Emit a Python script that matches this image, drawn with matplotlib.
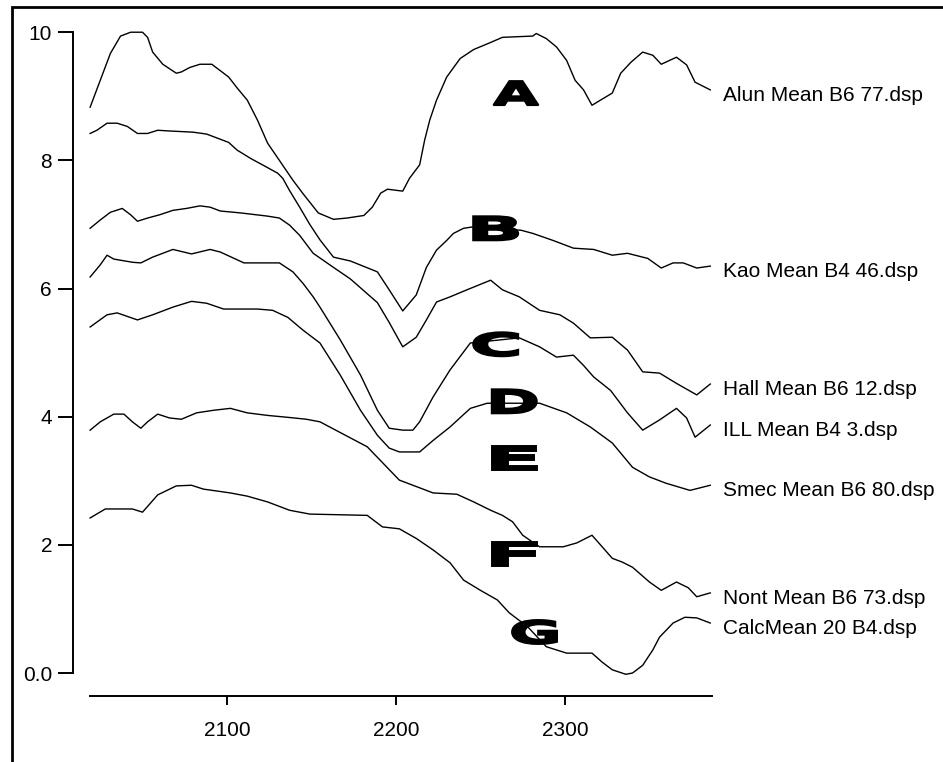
import matplotlib
matplotlib.use("Agg")
import matplotlib.pyplot as plt
from matplotlib import patheffects, font_manager
from matplotlib.transforms import Affine2D
from matplotlib.patches import Rectangle

# spectra, wavelength (nm) and offset reflectance
alun_x = [2019, 2025, 2031, 2037, 2043, 2050, 2053, 2056, 2062, 2070, 2073, 2078, 2084, 2091, 2096,
          2101, 2106, 2112, 2118, 2124, 2131, 2139, 2145, 2154, 2163, 2171, 2181, 2186, 2191, 2195,
          2204, 2208, 2214, 2217, 2220, 2224, 2230, 2238, 2246, 2256, 2263, 2281, 2283, 2289, 2295,
          2301, 2306, 2311, 2316, 2321, 2328, 2333, 2339, 2346, 2352, 2357, 2366, 2372, 2377, 2386]
alun_y = [8.83, 9.25, 9.67, 9.94, 10.0, 10.0, 9.92, 9.69, 9.50, 9.36, 9.38, 9.45, 9.50, 9.50, 9.40,
          9.30, 9.13, 8.94, 8.63, 8.27, 8.00, 7.69, 7.48, 7.18, 7.08, 7.10, 7.14, 7.27, 7.49, 7.55,
          7.52, 7.72, 7.93, 8.32, 8.63, 8.94, 9.30, 9.59, 9.73, 9.84, 9.92, 9.94, 9.98, 9.90, 9.77,
          9.56, 9.25, 9.10, 8.86, 8.94, 9.05, 9.36, 9.53, 9.69, 9.64, 9.50, 9.61, 9.49, 9.22, 9.10]

kao_x = [2019, 2023, 2029, 2035, 2041, 2047, 2053, 2059, 2065, 2080, 2088, 2095, 2101, 2106, 2114,
         2121, 2130, 2133, 2137, 2143, 2149, 2155, 2163, 2173, 2189, 2195, 2204, 2212, 2218, 2224,
         2230, 2234, 2240, 2245, 2274, 2281, 2293, 2305, 2317, 2328, 2337, 2349, 2357, 2364, 2370,
         2378, 2386]
kao_y = [8.42, 8.47, 8.58, 8.58, 8.53, 8.42, 8.42, 8.47, 8.46, 8.44, 8.41, 8.34, 8.28, 8.16, 8.03,
         7.93, 7.80, 7.72, 7.53, 7.27, 7.00, 6.76, 6.49, 6.43, 6.26, 6.02, 5.65, 5.90, 6.33, 6.60,
         6.75, 6.86, 6.94, 6.96, 6.91, 6.86, 6.75, 6.63, 6.61, 6.52, 6.55, 6.47, 6.32, 6.40, 6.40,
         6.32, 6.35]

hall_x = [2019, 2025, 2031, 2038, 2043, 2047, 2053, 2060, 2068, 2076, 2084, 2090, 2096, 2108, 2124,
          2131, 2137, 2143, 2151, 2163, 2173, 2189, 2196, 2204, 2212, 2218, 2224, 2232, 2242, 2256,
          2263, 2273, 2285, 2297, 2305, 2315, 2328, 2337, 2346, 2356, 2366, 2378, 2386]
hall_y = [6.94, 7.07, 7.19, 7.25, 7.15, 7.05, 7.10, 7.15, 7.22, 7.25, 7.29, 7.27, 7.21, 7.18, 7.13,
          7.10, 6.99, 6.83, 6.55, 6.33, 6.15, 5.78, 5.47, 5.09, 5.24, 5.51, 5.79, 5.87, 5.98, 6.13,
          5.98, 5.87, 5.66, 5.59, 5.46, 5.23, 5.24, 5.04, 4.70, 4.68, 4.52, 4.34, 4.51]

ill_x = [2019, 2025, 2029, 2033, 2044, 2049, 2056, 2068, 2079, 2090, 2096, 2110, 2131, 2139, 2145,
         2151, 2155, 2167, 2179, 2189, 2196, 2204, 2210, 2214, 2222, 2232, 2244, 2273, 2285, 2295,
         2305, 2311, 2317, 2327, 2337, 2346, 2356, 2366, 2372, 2377, 2386]
ill_y = [6.18, 6.37, 6.52, 6.46, 6.41, 6.40, 6.49, 6.61, 6.54, 6.61, 6.57, 6.40, 6.40, 6.26, 6.08,
         5.87, 5.71, 5.20, 4.65, 4.10, 3.82, 3.79, 3.79, 3.92, 4.31, 4.73, 5.15, 5.23, 5.09, 4.93,
         4.96, 4.80, 4.62, 4.41, 4.06, 3.79, 3.95, 4.13, 3.98, 3.68, 3.87]

smec_x = [2019, 2029, 2035, 2047, 2056, 2068, 2079, 2088, 2098, 2118, 2127, 2136, 2145, 2155, 2167,
          2179, 2189, 2196, 2202, 2214, 2222, 2232, 2244, 2254, 2285, 2301, 2315, 2328, 2340, 2350,
          2360, 2374, 2386]
smec_y = [5.40, 5.59, 5.62, 5.51, 5.59, 5.71, 5.80, 5.77, 5.68, 5.68, 5.66, 5.55, 5.35, 5.15, 4.65,
          4.10, 3.71, 3.51, 3.45, 3.45, 3.63, 3.84, 4.13, 4.21, 4.21, 4.06, 3.84, 3.59, 3.21, 3.06,
          2.96, 2.85, 2.93]

nont_x = [2019, 2025, 2033, 2039, 2044, 2049, 2053, 2059, 2066, 2073, 2082, 2092, 2102, 2112, 2124,
          2136, 2147, 2155, 2183, 2202, 2222, 2236, 2246, 2256, 2263, 2269, 2275, 2281, 2285, 2299,
          2307, 2316, 2322, 2328, 2334, 2340, 2350, 2357, 2366, 2373, 2378, 2386]
nont_y = [3.79, 3.92, 4.04, 4.04, 3.92, 3.82, 3.92, 4.04, 3.98, 3.96, 4.06, 4.10, 4.13, 4.06, 4.02,
          3.99, 3.96, 3.92, 3.53, 3.01, 2.81, 2.79, 2.67, 2.54, 2.46, 2.36, 2.15, 2.04, 1.97, 1.97,
          2.03, 2.15, 1.97, 1.79, 1.73, 1.65, 1.42, 1.29, 1.42, 1.33, 1.19, 1.25]

calc_x = [2019, 2028, 2044, 2050, 2059, 2070, 2079, 2086, 2102, 2112, 2124, 2137, 2149, 2183, 2192,
          2202, 2212, 2222, 2232, 2240, 2250, 2260, 2267, 2278, 2289, 2301, 2309, 2316, 2322, 2328,
          2336, 2340, 2346, 2352, 2356, 2364, 2371, 2378, 2386]
calc_y = [2.42, 2.56, 2.56, 2.51, 2.78, 2.92, 2.93, 2.87, 2.81, 2.76, 2.67, 2.54, 2.48, 2.46, 2.28,
          2.25, 2.10, 1.92, 1.72, 1.45, 1.29, 1.14, 0.94, 0.72, 0.41, 0.31, 0.31, 0.31, 0.17, 0.05,
          -0.02, 0.00, 0.12, 0.36, 0.56, 0.78, 0.87, 0.86, 0.78]

names = ["Alun Mean B6 77.dsp", "Kao Mean B4 46.dsp", "Hall Mean B6 12.dsp", "ILL Mean B4 3.dsp",
         "Smec Mean B6 80.dsp", "Nont Mean B6 73.dsp", "CalcMean 20 B4.dsp"]
spectra = [(alun_x, alun_y), (kao_x, kao_y), (hall_x, hall_y), (ill_x, ill_y),
           (smec_x, smec_y), (nont_x, nont_y), (calc_x, calc_y)]

letters = ["A", "B", "C", "D", "E", "F", "G"]
letter_x = [2271, 2259, 2259, 2270, 2270, 2270, 2282]
letter_y = [9.05, 6.94, 5.13, 4.24, 3.35, 1.86, 0.64]

y_ticks = [0, 2, 4, 6, 8, 10]
y_ticklabels = ["0.0", "2", "4", "6", "8", "10"]
x_ticks = [2100, 2200, 2300]

installed = {f.name for f in font_manager.fontManager.ttflist}
if "Liberation Sans Narrow" in installed:
    txt_font, txt_size = "Liberation Sans Narrow", 17
else:
    txt_font, txt_size = "Liberation Sans", 15
plt.rcParams["font.family"] = [txt_font, "DejaVu Sans"]


class BlockLetter(patheffects.AbstractPathEffect):
    """draw a glyph squeezed into a fixed box (points), centred on a data point"""
    def __init__(self, ax, xy, w, h, lw):
        super().__init__()
        self.ax, self.xy, self.w, self.h, self.lw = ax, xy, w, h, lw

    def draw_path(self, renderer, gc, tpath, affine, rgbFace=None):
        ext = tpath.get_extents(affine)
        lw_px = renderer.points_to_pixels(self.lw)
        sx = (renderer.points_to_pixels(self.w) - lw_px) / ext.width
        sy = (renderer.points_to_pixels(self.h) - lw_px) / ext.height
        tx, ty = self.ax.transData.transform(self.xy)
        cx, cy = (ext.x0 + ext.x1) / 2, (ext.y0 + ext.y1) / 2
        t = affine + Affine2D().translate(-cx, -cy).scale(sx, sy).translate(tx, ty)
        gc0 = renderer.new_gc()
        gc0.copy_properties(gc)
        gc0.set_linewidth(self.lw)
        gc0.set_foreground("black")
        gc0.set_joinstyle("miter")
        renderer.draw_path(gc0, tpath, t, rgbFace)
        gc0.restore()


fig = plt.figure(figsize=(9.43, 7.62), dpi=100)
ax = fig.add_axes([0.0954, 0.0866, 0.6596, 0.8871])

for (x, y), name in zip(spectra, names):
    ax.plot(x, y, color="black", lw=1.0, clip_on=False)
    ax.annotate(name, xy=(x[-1], y[-1]), xytext=(13, -11), textcoords="offset pixels",
                ha="left", va="baseline", fontsize=txt_size, annotation_clip=False)

for s, lx, ly in zip(letters, letter_x, letter_y):
    ax.text(lx, ly, s, ha="center", va="center", fontsize=26, fontweight="bold",
            family="DejaVu Sans", zorder=5,
            path_effects=[BlockLetter(ax, (lx, ly), 33.8, 18.7, 1.4)])

ax.set_xlim(2018.9, 2387.0)
ax.set_ylim(-0.359, 10.19)
ax.set_xticks(x_ticks)
ax.set_yticks(y_ticks)
ax.set_yticklabels(y_ticklabels)

for side in ["top", "right"]:
    ax.spines[side].set_visible(False)
ax.spines["left"].set_position(("outward", 12.2))
ax.spines["left"].set_bounds(0, 10)
for side in ["left", "bottom"]:
    ax.spines[side].set_linewidth(1.4)
ax.tick_params(axis="y", direction="out", length=10.8, width=1.4, pad=4.3, labelsize=txt_size)
ax.tick_params(axis="x", direction="out", length=6.8, width=1.4, pad=11.5, labelsize=txt_size)

# frame round the whole picture (open to the right and bottom)
fig.patches.append(Rectangle((12 / 943, -0.05), 1.1, 1.05 - 7 / 762, transform=fig.transFigure,
                             fill=False, edgecolor="black", lw=2.0))

fig.savefig("out.png", dpi=100)
